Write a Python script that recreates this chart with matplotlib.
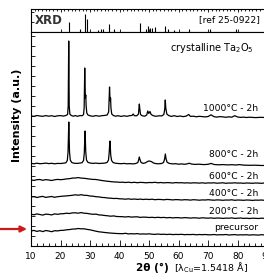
import matplotlib
matplotlib.use('Agg')
import matplotlib.pyplot as plt
from matplotlib.ticker import MultipleLocator, NullFormatter

# ---- reference pattern (Ta2O5, ref 25-0922) ----
REF_POS = [22.9, 26.7, 28.3, 29.0, 32.6, 33.7, 34.5, 36.4, 38.0, 46.8, 48.9,
           49.6, 50.3, 51.1, 52.0, 55.3, 56.3, 58.3, 63.4, 70.7, 79.5]
REF_H = [10, 3, 18, 13, 2, 3, 3, 8, 3, 9, 3, 6, 4, 4, 5, 6, 3, 2, 3, 3, 3]

# ---- amorphous samples, 1 deg step ----
TT_AM = list(range(10, 91))

I_PREC = [0, 0.6, -0.4, 0.3, -0.6, 0.5, 0, -0.7, 0.3, 0.1, 0.6,
          0.7, 1.2, 1.4, 1.9, 2.0, 2.5, 2.2, 2.2, 1.6, 1.2,
          0.5, -0.2, -0.8, -1.1, -1.5, -1.8, -2.1, -2.3, -2.5, -2.6,
          -2.7, -2.3, -2.9, -2.7, -2.9, -2.6, -3.1, -2.9, -3.1, -2.8,
          -3.2, -3.4, -3.0, -3.4, -3.2, -3.5, -3.2, -3.6, -3.4, -3.5,
          -3.3, -3.7, -3.5, -3.6, -3.4, -3.8, -3.5, -3.7, -3.5, -3.8,
          -3.8, -3.5, -3.9, -3.7, -3.8, -3.5, -4.0, -3.8, -3.6, -4.0,
          -3.8, -3.9, -3.7, -4.1, -3.8, -3.9, -4.1, -3.7, -3.9, -4.0]
I_200 = [0.3, -0.3, 0.6, 0, -0.6, 0.4, 0.1, -0.4, 0.6, 0.2, 0.7,
         0.8, 1.3, 1.0, 1.6, 1.7, 1.3, 1.9, 1.3, 1.1, 0.6,
         0.2, 0.4, -0.4, -0.6, -1.0, -1.3, -1.7, -1.4, -2.0, -2.1,
         -2.2, -2.5, -2.1, -2.6, -2.4, -2.3, -2.9, -2.6, -2.7, -3.0,
         -2.8, -3.1, -2.8, -3.1, -2.9, -3.3, -3.0, -3.4, -3.1, -3.2,
         -3.5, -3.1, -3.3, -3.6, -3.3, -3.4, -3.7, -3.3, -3.5, -3.7,
         -3.4, -3.8, -3.5, -3.6, -3.9, -3.6, -3.7, -3.4, -3.9, -3.7,
         -3.5, -3.9, -3.7, -4.0, -3.7, -3.8, -4.0, -3.7, -3.8, -3.9]
I_400 = [0, 0.4, -0.5, 0.2, 0.6, -0.4, 0.1, 0.5, -0.3, 0.3, 0.6,
         0.9, 1.1, 1.4, 1.7, 2.2, 1.8, 2.3, 1.7, 1.6, 1.0,
         0.8, 0.3, 0.1, -0.4, -0.6, -1.0, -1.2, -1.5, -1.4, -1.8,
         -1.9, -2.2, -1.8, -2.3, -2.0, -2.4, -2.1, -2.5, -2.2, -2.5,
         -2.2, -2.7, -2.4, -2.5, -2.8, -2.4, -2.6, -2.9, -2.6, -2.7,
         -3.0, -2.7, -2.8, -3.1, -2.7, -2.9, -3.2, -2.9, -3.0, -2.7,
         -3.0, -3.2, -2.9, -3.0, -3.3, -3.0, -3.1, -2.8, -3.3, -3.0,
         -3.1, -3.3, -3.0, -3.1, -3.4, -3.1, -3.2, -3.0, -3.3, -3.3]
I_600 = [0, -0.4, 0.3, 0.5, -0.3, 0.4, 0, -0.5, 0.2, 0.6, 0.3,
         0.6, 1.1, 1.3, 1.9, 2.0, 2.4, 1.9, 1.7, 1.3, 0.9,
         0.6, 0.5, 0.0, -0.5, -0.9, -1.3, -1.6, -1.9, -2.0, -2.3,
         -2.2, -2.5, -2.2, -2.6, -2.3, -2.7, -2.4, -2.5, -2.8, -2.5,
         -2.6, -2.3, -2.8, -2.5, -2.9, -2.6, -2.7, -3.0, -2.6, -2.8,
         -2.7, -3.0, -2.8, -3.1, -2.8, -2.9, -3.1, -2.8, -3.2, -2.9,
         -3.0, -2.8, -3.2, -3.0, -2.8, -3.3, -3.0, -3.1, -2.8, -3.1,
         -3.0, -3.3, -3.0, -3.1, -3.3, -3.0, -3.1, -3.3, -3.0, -3.1]

# ---- crystallised samples ----
TT_800 = [10, 11, 12, 13, 14, 15, 16, 17, 18, 19, 20, 21, 21.8, 22.3, 22.55,
          22.7, 22.8, 22.9, 23.05, 23.3, 23.8, 24.5, 25.5, 26.5, 27.3, 27.8,
          28.05, 28.2, 28.3, 28.4, 28.55, 28.8, 29.3, 30, 31, 32, 33, 34, 35,
          35.8, 36.25, 36.5, 36.65, 36.75, 36.85, 37.0, 37.3, 37.8, 38.5, 39.5,
          40.5, 41.5, 42.5, 43.5, 44.5, 45.5, 46.2, 46.5, 46.7, 46.9, 47.3, 48,
          48.8, 49.4, 49.9, 50.4, 50.9, 51.5, 52.3, 53.2, 54.2, 54.9, 55.25,
          55.5, 55.75, 56.1, 56.8, 58, 59, 60, 61, 62, 63, 63.6, 64.3, 65.5, 67,
          68.5, 70, 71, 72, 73.5, 75, 76.5, 78, 79.5, 80.5, 82, 84, 86, 88, 90]
I_800 = [0.6, 0.2, 0.8, 0.3, 0.5, 0.9, 0.4, 0.7, 0.2, 0.6, 0.5, 0.8, 1.2, 3.5, 12,
         30, 42, 30, 12, 4, 1.5, 0.8, 0.6, 0.9, 1.3, 3.5,
         11, 24, 33, 25, 12, 4, 1.6, 1.0, 0.6, 0.9, 0.5, 0.7, 0.9,
         1.6, 4, 12, 20, 23, 18, 9, 3.5, 1.5, 0.8, 0.5,
         0.3, 0.6, 0.2, 0.4, 0.1, 0.5, 1.5, 4.5, 7, 4.5, 1.5, 0.6,
         1.2, 2.4, 3, 2.8, 2.2, 1, 0.4, 0.2, 0.5, 1.5, 5,
         10, 5, 1.8, 0.6, 0.1, 0.3, -0.2, 0.1, -0.3, 0.2, 0.8, 0, -0.4, -0.2,
         -0.6, -0.3, 0.6, -0.5, -0.8, -0.6, -0.9, -0.7, -1.0, -0.6, -1.1, -1.3, -1.2, -1.5, -1.4]

TT_1000 = [10, 11, 12, 13, 14, 15, 16, 17, 18, 19, 20, 21, 21.8, 22.4, 22.6, 22.7,
           22.78, 22.86, 22.95, 23.15, 23.6, 24.3, 25, 25.8, 26.6, 27.3, 27.8,
           28.0, 28.12, 28.2, 28.3, 28.42, 28.55, 28.68, 28.9, 29.3, 30, 31, 32,
           33, 34, 35, 35.8, 36.3, 36.48, 36.6, 36.72, 36.85, 36.95, 37.08,
           37.35, 37.9, 38.6, 39.5, 40.5, 41.5, 42.5, 43.5, 44.2, 44.6, 45, 45.8,
           46.4, 46.6, 46.7, 46.82, 47.1, 47.6, 48.5, 49.2, 49.55, 49.9, 50.3,
           50.7, 51.4, 52.3, 53.3, 54.3, 55, 55.3, 55.48, 55.65, 56, 56.6, 57.5,
           58.5, 59.5, 60.5, 61.5, 62.5, 63.4, 64, 65, 66, 67, 68, 69, 70, 71, 72,
           73, 74, 75, 76, 77, 78, 79, 80, 81, 82, 83, 84, 86, 88, 90]
I_1000 = [0.2, -0.4, 0.5, 0, -0.3, 0.4, -0.2, 0.3, -0.5, 0.2, 0.4, -0.1, 0.5, 1.5, 10, 45,
          75, 45, 10, 2, 0.6, -0.2, 0.4, -0.3, 0.5, 0.2, 1.5,
          8, 30, 48, 30, 18, 21, 10, 3, 1, 0.2, -0.3, 0.4,
          -0.2, 0.3, 0.6, 1, 4, 18, 29, 20, 15, 18, 8,
          2, 0.5, -0.2, 0.3, -0.4, 0.2, -0.3, 0.4, 0.5, 2, 0.3, 0.2,
          2, 9, 12, 8, 1.5, 0.3, -0.2, 1, 5, 2.5, 4.5,
          1.5, 0.3, -0.3, 0.2, 0.1, 1.5, 7, 16, 8, 2, 0.5, -0.4,
          0.3, -0.5, 0, -0.6, -0.2, 1.5, -0.4, -0.2, -0.8, -0.3, -0.6, -0.9, -0.5, 1.2, -0.7,
          -1.1, -0.6, -0.9, -1.3, -0.8, -1.2, 0.3, -1.0, -1.4, -1.1, -1.5, -1.2, -1.6, -1.3, -1.7]

# stacking offsets and labels
OFFSETS = [15, 31.5, 49, 66, 82, 130]
LABELS = ['precursor', '200°C - 2h', '400°C - 2h', '600°C - 2h', '800°C - 2h', '1000°C - 2h']
LABEL_Y = [15.7, 31.7, 50, 67, 88.7, 134.7]

fig = plt.figure(figsize=(2.64, 2.77), dpi=100)
ax_ref = fig.add_axes([0.1174, 0.8834, 0.8947, 0.0841])
ax = fig.add_axes([0.1174, 0.1119, 0.8947, 0.7715])

# reference sticks
ax_ref.vlines(REF_POS, 0, REF_H, color='black', linewidth=0.8)
ax_ref.set_xlim(10, 90)
ax_ref.set_ylim(0, 23.3)
ax_ref.xaxis.set_major_locator(MultipleLocator(10))
ax_ref.xaxis.set_minor_locator(MultipleLocator(1.25))
ax_ref.yaxis.set_major_locator(MultipleLocator(10))
ax_ref.tick_params(axis='x', which='major', direction='in', top=True, bottom=True,
                   length=2.5, width=0.6, labelbottom=False)
ax_ref.tick_params(axis='x', which='minor', direction='in', top=True, bottom=False,
                   length=1.5, width=0.6)
ax_ref.tick_params(axis='y', direction='in', length=2, width=0.6, labelleft=False)
ax_ref.text(11.3, 11.5, 'XRD', fontsize=8.5, fontweight='bold', color='#333333',
            va='center', ha='left')
ax_ref.text(87.5, 13.0, '[ref 25-0922]', fontsize=6.6, va='center', ha='right')

# patterns
traces = [(TT_AM, I_PREC), (TT_AM, I_200), (TT_AM, I_400), (TT_AM, I_600),
          (TT_800, I_800), (TT_1000, I_1000)]
for (tt, inten), off, lab, ly in zip(traces, OFFSETS, LABELS, LABEL_Y):
    ax.plot(tt, [v + off for v in inten], color='black', linewidth=0.9)
    ax.text(86.9, ly, lab, fontsize=6.6, ha='right', va='baseline')

ax.text(85.5, 194.7, 'crystalline Ta$_2$O$_5$', fontsize=7, ha='right', va='baseline')

ax.set_xlim(10, 90)
ax.set_ylim(0, 213.7)
ax.xaxis.set_major_locator(MultipleLocator(10))
ax.xaxis.set_minor_locator(MultipleLocator(2))
ax.yaxis.set_major_locator(MultipleLocator(10))
ax.yaxis.set_major_formatter(NullFormatter())
ax.tick_params(axis='x', which='major', direction='in', length=4, width=0.6,
               labelsize=6.5, pad=4)
ax.tick_params(axis='x', which='minor', direction='in', length=2, width=0.6)
ax.tick_params(axis='y', direction='in', length=3, width=0.6)
for a in (ax, ax_ref):
    for s in a.spines.values():
        s.set_linewidth(0.8)

fig.text(17 / 264, 1 - 115 / 277, 'Intensity (a.u.)', rotation=90, fontsize=8,
         fontweight='bold', ha='center', va='center')
fig.text(152 / 264, 9 / 277, '2θ (°)', fontsize=7.5, fontweight='bold',
         ha='center', va='center')
fig.text(174 / 264, 9 / 277, r'[λ$_{\mathrm{Cu}}$=1.5418 Å]', fontsize=6.8,
         ha='left', va='center')

# red arrow pointing at the precursor
ax.annotate('', xy=(27, 48), xytext=(0, 48), xycoords='figure pixels',
            textcoords='figure pixels', annotation_clip=False,
            arrowprops=dict(arrowstyle='-|>', color='#cc1a1a', lw=1.6,
                            mutation_scale=9, shrinkA=0, shrinkB=0))

fig.savefig('out.png', dpi=100)
